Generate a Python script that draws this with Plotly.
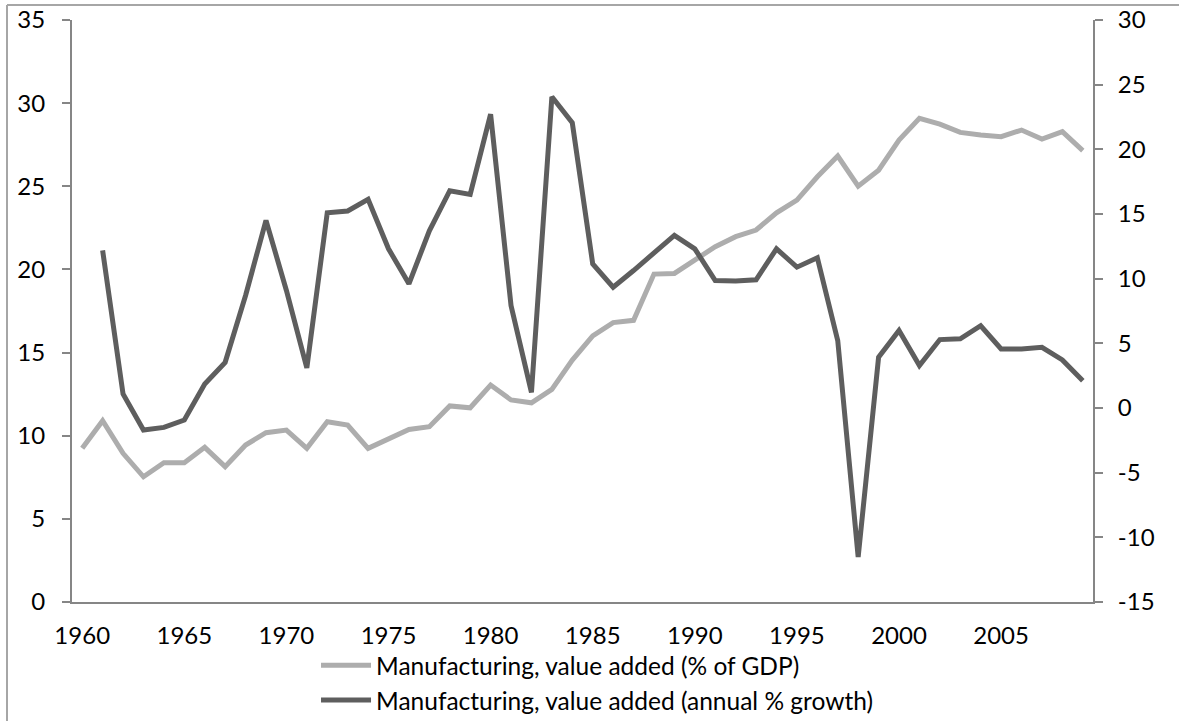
import plotly.graph_objects as go

years = list(range(1960, 2010))

gdp_share = [9.24, 10.90, 8.94, 7.53, 8.38, 8.38, 9.30, 8.14, 9.44, 10.18,
             10.34, 9.24, 10.84, 10.64, 9.24, 9.80, 10.38, 10.54, 11.79, 11.68,
             13.05, 12.15, 11.98, 12.79, 14.55, 16.00, 16.80, 16.94, 19.72, 19.76,
             20.56, 21.37, 21.97, 22.37, 23.40, 24.17, 25.57, 26.82, 25.01, 25.97,
             27.78, 29.09, 28.74, 28.24, 28.08, 27.98, 28.38, 27.84, 28.28, 27.14]

growth = [None, 12.18, 1.08, -1.70, -1.50, -0.93, 1.86, 3.53, 8.70, 14.51,
          9.09, 3.10, 15.10, 15.23, 16.13, 12.31, 9.60, 13.70, 16.80, 16.52,
          22.72, 7.92, 1.21, 24.06, 22.05, 11.15, 9.34, 10.63, 12.00, 13.35,
          12.31, 9.86, 9.81, 9.91, 12.31, 10.89, 11.62, 5.21, -11.52, 3.92,
          5.99, 3.28, 5.29, 5.35, 6.36, 4.57, 4.57, 4.69, 3.72, 2.11]

label_years = [1960, 1965, 1970, 1975, 1980, 1985, 1990, 1995, 2000, 2005]
left_ticks = [0, 5, 10, 15, 20, 25, 30, 35]
right_ticks = [-15, -10, -5, 0, 5, 10, 15, 20, 25, 30]
name_gdp = "Manufacturing, value added (% of GDP)"
name_growth = "Manufacturing, value added (annual % growth)"

AX = "#868686"
FONT = dict(family="Lato, Open Sans, sans-serif", size=24, color="#000000")

fig = go.Figure()
fig.add_trace(go.Scatter(x=years, y=gdp_share, name=name_gdp, mode="lines",
                         legendgroup="a",
                         line=dict(color="#ADADAD", width=5), yaxis="y"))
fig.add_trace(go.Scatter(x=years, y=growth, name=name_growth, mode="lines",
                         legendgroup="b",
                         line=dict(color="#5E5E5E", width=5), yaxis="y2"))

xr = [1959.5, 2009.5]
half = [y - 0.5 for y in years] + [2009.5]

fig.update_layout(
    width=1179, height=721,
    margin=dict(l=72, r=86, t=20, b=119, autoexpand=False),
    paper_bgcolor="white", plot_bgcolor="white",
    font=FONT,
    showlegend=True,
    legend=dict(x=0.239, y=-0.07, xanchor="left", yanchor="top",
                orientation="v", font=dict(FONT, size=24.5), itemwidth=50,
                bgcolor="rgba(0,0,0,0)", tracegroupgap=0),
    xaxis=dict(range=xr, tickmode="array", tickvals=label_years,
               ticktext=[str(v) for v in label_years], ticks="",
               showline=True, linecolor=AX, linewidth=2, showgrid=False,
               zeroline=False, ticklabelstandoff=11, anchor="y"),
    xaxis2=dict(range=xr, overlaying="x", anchor="y", tickmode="array",
                tickvals=half, ticks="outside", ticklen=8, tickwidth=2,
                tickcolor=AX, showticklabels=False, showline=False,
                showgrid=False, zeroline=False),
    xaxis3=dict(range=xr, overlaying="x", anchor="y", tickmode="array",
                tickvals=half, ticks="inside", ticklen=8, tickwidth=2,
                tickcolor=AX, showticklabels=False, showline=False,
                showgrid=False, zeroline=False),
    yaxis=dict(range=[0, 35], tickmode="array", tickvals=left_ticks,
               ticktext=[str(v) for v in left_ticks],
               ticks="outside", ticklen=8,
               tickwidth=2, tickcolor=AX, showline=True, linecolor=AX,
               linewidth=2, showgrid=False, zeroline=False,
               ticklabelstandoff=12, anchor="x"),
    yaxis2=dict(range=[-15, 30], tickmode="array", tickvals=right_ticks,
                ticktext=[str(v) for v in right_ticks],
                ticks="outside", ticklen=8,
                tickwidth=2, tickcolor=AX, showline=True, linecolor=AX,
                linewidth=2, showgrid=False, zeroline=False, side="right",
                overlaying="y", anchor="x", ticklabelstandoff=10),
    yaxis3=dict(range=[0, 35], tickmode="array", tickvals=left_ticks,
                ticks="inside", ticklen=8,
                tickwidth=2, tickcolor=AX, showticklabels=False,
                showline=False, showgrid=False, zeroline=False,
                overlaying="y", anchor="x", side="left"),
    yaxis4=dict(range=[-15, 30], tickmode="array", tickvals=right_ticks,
                ticks="inside", ticklen=8,
                tickwidth=2, tickcolor=AX, showticklabels=False,
                showline=False, showgrid=False, zeroline=False,
                overlaying="y", anchor="x", side="right"),
)

# outer chart border (left and top edges visible in the reference)
fig.add_shape(type="line", xref="paper", yref="paper",
              x0=-65 / 1021, x1=-65 / 1021, y0=1 + 15 / 582, y1=-0.25,
              line=dict(color="#A6A6A6", width=2))
fig.add_shape(type="line", xref="paper", yref="paper",
              x0=-65 / 1021, x1=1.2, y0=1 + 15 / 582, y1=1 + 15 / 582,
              line=dict(color="#A6A6A6", width=2))

fig.write_html("out.html",
               config={"displayModeBar": False},
               post_script="document.body.style.margin='0';"
                           "document.body.style.overflow='hidden';")
